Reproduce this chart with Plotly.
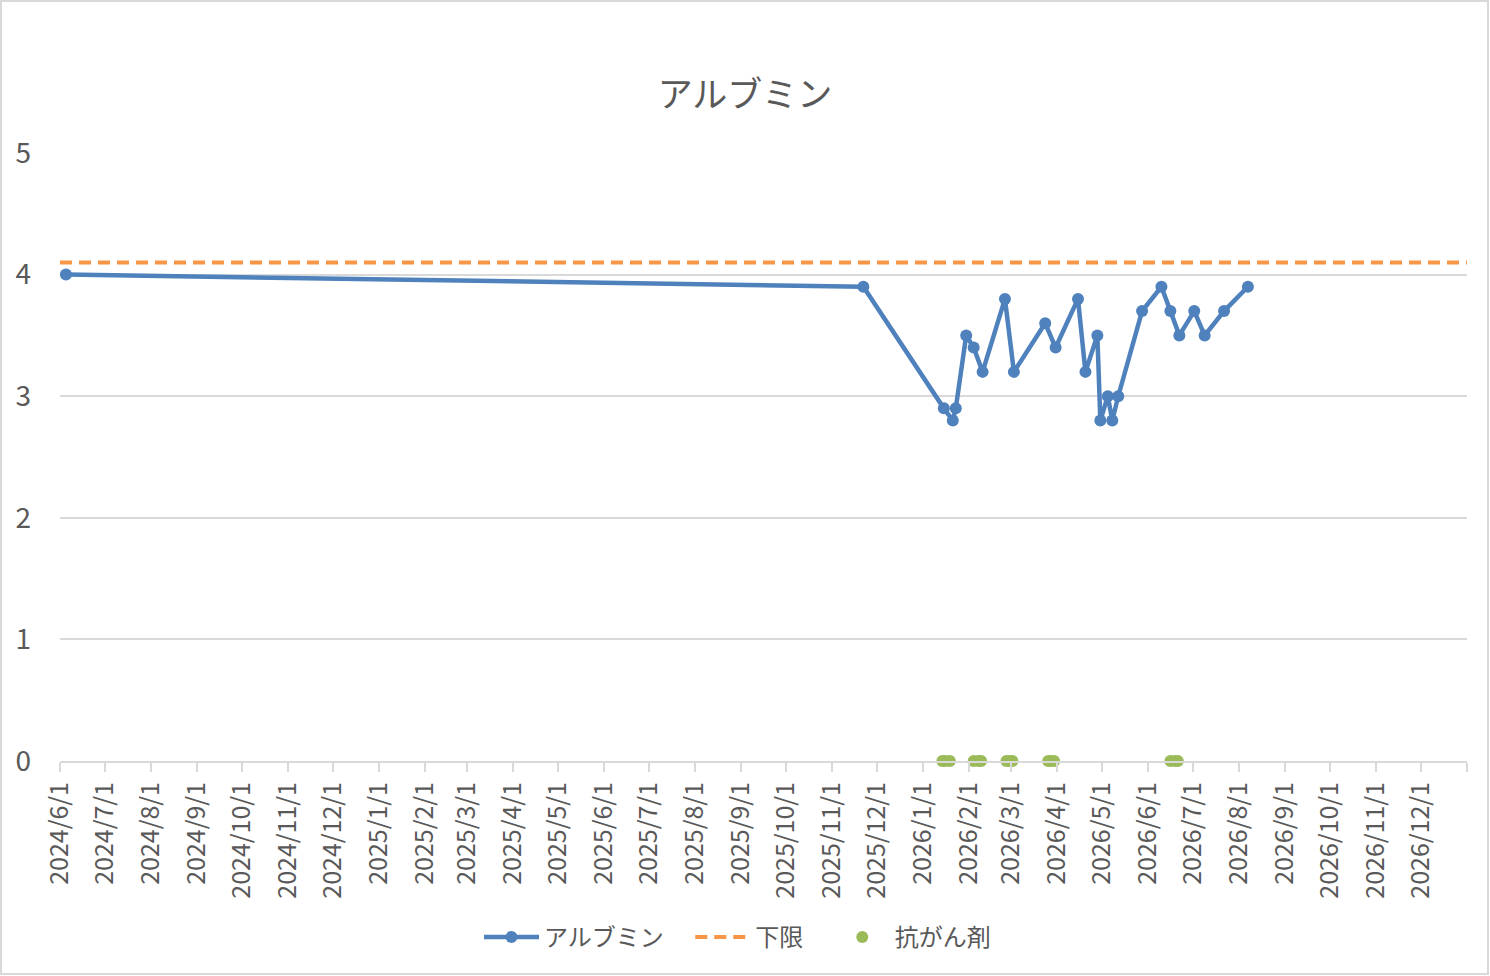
import pandas as pd
import plotly.graph_objects as go

# albumin measurements
alb_dates = ['2024-06-05', '2025-11-22', '2026-01-15', '2026-01-21', '2026-01-23', '2026-01-30',
             '2026-02-04', '2026-02-10', '2026-02-25', '2026-03-03', '2026-03-24', '2026-03-31',
             '2026-04-15', '2026-04-20', '2026-04-28', '2026-04-30', '2026-05-05', '2026-05-08',
             '2026-05-12', '2026-05-28', '2026-06-10', '2026-06-16', '2026-06-22', '2026-07-02',
             '2026-07-09', '2026-07-22', '2026-08-07']
alb_values = [4.0, 3.9, 2.9, 2.8, 2.9, 3.5,
              3.4, 3.2, 3.8, 3.2, 3.6, 3.4,
              3.8, 3.2, 3.5, 2.8, 3.0, 2.8,
              3.0, 3.7, 3.9, 3.7, 3.5, 3.7,
              3.5, 3.7, 3.9]

# lower limit
lower_limit = 4.1
axis_start = '2024-06-01'
axis_end = '2027-01-01'

# chemo days (shown on the 0 line)
chemo_dates = ['2026-01-14', '2026-01-16', '2026-01-19',
               '2026-02-04', '2026-02-07', '2026-02-09',
               '2026-02-26', '2026-02-28', '2026-03-02',
               '2026-03-26', '2026-03-28', '2026-03-30',
               '2026-06-16', '2026-06-19', '2026-06-21']
chemo_values = [0] * len(chemo_dates)

months = pd.date_range(axis_start, axis_end, freq='MS')
tick_text = [f'{d.year}/{d.month}/{d.day}' for d in months[:-1]] + ['']

BLUE = '#4F81BD'
ORANGE = '#F79646'
GREEN = '#9BBB59'
GRID = '#D9D9D9'
TEXT = '#595959'
FONT = 'Noto Sans CJK JP'
PAD = '\u00a0' * 4  # extra room between legend entries

fig = go.Figure()

fig.add_trace(go.Scatter(
    name='アルブミン' + PAD,
    x=alb_dates,
    y=alb_values,
    mode='lines+markers',
    line=dict(color=BLUE, width=4.5),
    marker=dict(color=BLUE, size=12),
))

fig.add_trace(go.Scatter(
    name='下限' + PAD,
    x=[axis_start, axis_end],
    y=[lower_limit, lower_limit],
    mode='lines',
    line=dict(color=ORANGE, width=4, dash='12px,7px'),
))

fig.add_trace(go.Scatter(
    name='抗がん剤',
    x=chemo_dates,
    y=chemo_values,
    mode='markers',
    marker=dict(color=GREEN, size=12),
    cliponaxis=False,
))

fig.update_layout(
    width=1490,
    height=976,
    margin=dict(l=60, r=23, t=153, b=215),
    paper_bgcolor='white',
    plot_bgcolor='white',
    font=dict(family=FONT, color=TEXT),
    title=dict(text='アルブミン', x=0.5, xanchor='center', y=0.903, yanchor='middle',
               font=dict(size=35, color=TEXT, family=FONT)),
    xaxis=dict(
        type='date',
        range=[axis_start, axis_end],
        tickvals=months,
        ticktext=tick_text,
        tickangle=-90,
        ticks='outside',
        ticklen=9,
        tickwidth=2,
        tickcolor=GRID,
        showline=True,
        linecolor=GRID,
        linewidth=2,
        showgrid=False,
        zeroline=False,
        tickfont=dict(size=25, color=TEXT),
    ),
    yaxis=dict(
        range=[0, 5],
        dtick=1,
        showgrid=True,
        gridcolor=GRID,
        gridwidth=2,
        zeroline=False,
        showline=False,
        ticks='',
        ticklabelstandoff=28,
        tickfont=dict(size=28, color=TEXT),
    ),
    legend=dict(
        orientation='h',
        x=419 / 1407,
        xanchor='left',
        y=-0.29,
        yanchor='middle',
        font=dict(size=24, color=TEXT),
        itemwidth=55,
        traceorder='normal',
    ),
    showlegend=True,
    shapes=[dict(type='rect', xref='paper', yref='paper',
                 x0=-59 / 1407, x1=1428 / 1407, y0=-213 / 608, y1=760 / 608,
                 line=dict(color=GRID, width=2), fillcolor='rgba(0,0,0,0)', layer='below')],
)

fig.write_html('out.html', config={'displayModeBar': False},
               post_script="document.body.style.margin='0';")
